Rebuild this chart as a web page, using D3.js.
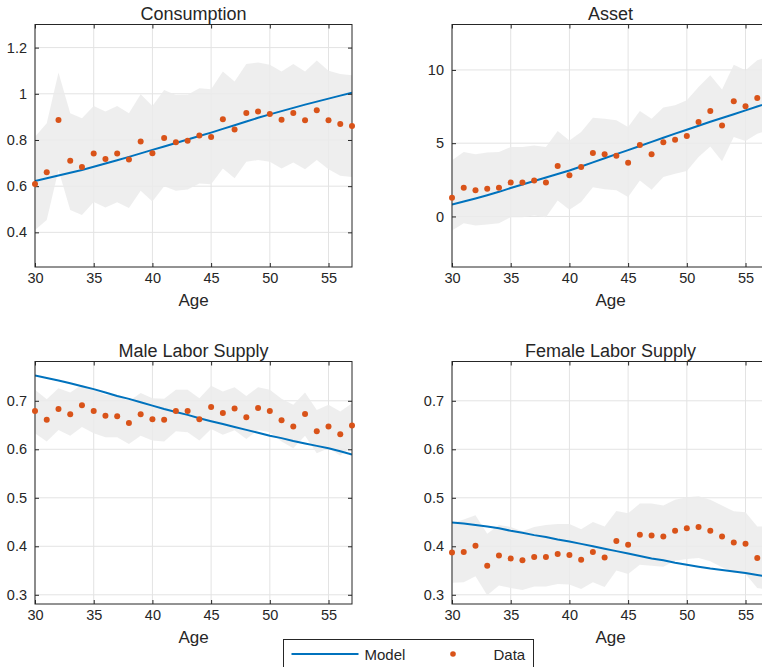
<!DOCTYPE html>
<html>
<head>
<meta charset="utf-8">
<script src="https://cdn.jsdelivr.net/npm/d3@7"></script>
<style>
  body { margin: 0; background: #fff; }
  text { font-family: 'Liberation Sans', Arial, sans-serif; fill: #262626; }
</style>
</head>
<body>
<div id="wrapper"></div>
<script>
const ages = d3.range(30, 58)

const consumptionData = [0.609, 0.660, 0.887, 0.710, 0.683, 0.741, 0.718, 0.741, 0.715, 0.793, 0.742, 0.809, 0.790, 0.797, 0.819, 0.813, 0.890, 0.845, 0.917, 0.923, 0.913, 0.888, 0.917, 0.885, 0.929, 0.885, 0.869, 0.860]
const consumptionModel = [0.622, 0.634, 0.646, 0.658, 0.670, 0.684, 0.698, 0.712, 0.727, 0.742, 0.757, 0.772, 0.787, 0.802, 0.817, 0.832, 0.848, 0.864, 0.880, 0.896, 0.911, 0.925, 0.939, 0.953, 0.966, 0.979, 0.992, 1.005]
const consumptionUpper = [0.814, 0.872, 1.092, 0.916, 0.894, 0.947, 0.923, 0.947, 0.916, 0.998, 0.947, 1.016, 0.995, 0.996, 1.024, 1.020, 1.096, 1.053, 1.129, 1.135, 1.126, 1.096, 1.129, 1.096, 1.144, 1.100, 1.086, 1.080]
const consumptionLower = [0.410, 0.454, 0.670, 0.497, 0.475, 0.531, 0.508, 0.530, 0.505, 0.580, 0.534, 0.600, 0.580, 0.586, 0.612, 0.608, 0.677, 0.634, 0.706, 0.713, 0.706, 0.677, 0.702, 0.673, 0.713, 0.673, 0.645, 0.640]

const assetData = [1.28, 1.96, 1.78, 1.89, 1.96, 2.32, 2.32, 2.46, 2.32, 3.44, 2.82, 3.37, 4.33, 4.24, 4.15, 3.67, 4.87, 4.24, 5.06, 5.24, 5.49, 6.45, 7.20, 6.20, 7.86, 7.52, 8.09, 8.30]
const assetModel = [0.82, 1.02, 1.23, 1.45, 1.68, 1.94, 2.18, 2.42, 2.66, 2.90, 3.14, 3.41, 3.69, 3.97, 4.25, 4.53, 4.81, 5.09, 5.37, 5.65, 5.92, 6.19, 6.46, 6.72, 6.98, 7.24, 7.50, 7.75]
const assetUpper = [3.83, 4.40, 4.24, 4.37, 4.40, 4.74, 4.74, 4.85, 4.74, 5.83, 5.19, 5.76, 6.74, 6.67, 6.56, 6.10, 7.20, 6.67, 7.43, 7.59, 7.93, 8.84, 9.64, 8.66, 10.36, 9.98, 10.66, 10.90]
const assetLower = [-0.96, -0.46, -0.62, -0.55, -0.46, -0.05, -0.05, 0.07, -0.05, 1.09, 0.46, 0.98, 2.00, 1.85, 1.78, 1.32, 2.46, 1.82, 2.69, 2.92, 3.10, 4.05, 4.78, 3.76, 5.42, 5.15, 5.65, 5.90]

const maleData = [0.679, 0.661, 0.683, 0.672, 0.691, 0.679, 0.669, 0.668, 0.654, 0.672, 0.662, 0.661, 0.679, 0.679, 0.662, 0.687, 0.675, 0.684, 0.666, 0.685, 0.679, 0.660, 0.647, 0.673, 0.637, 0.647, 0.631, 0.649]
const maleModel = [0.752, 0.747, 0.742, 0.736, 0.730, 0.724, 0.717, 0.710, 0.704, 0.697, 0.690, 0.683, 0.677, 0.671, 0.664, 0.658, 0.652, 0.646, 0.640, 0.634, 0.628, 0.623, 0.617, 0.612, 0.607, 0.602, 0.596, 0.589]
const maleUpper = [0.723, 0.703, 0.726, 0.717, 0.733, 0.723, 0.712, 0.712, 0.699, 0.716, 0.705, 0.704, 0.723, 0.723, 0.705, 0.731, 0.719, 0.728, 0.710, 0.728, 0.723, 0.704, 0.692, 0.717, 0.681, 0.692, 0.678, 0.695]
const maleLower = [0.633, 0.616, 0.640, 0.628, 0.646, 0.633, 0.625, 0.625, 0.611, 0.628, 0.618, 0.616, 0.637, 0.635, 0.618, 0.642, 0.630, 0.639, 0.621, 0.640, 0.635, 0.616, 0.602, 0.628, 0.592, 0.602, 0.587, 0.604]

const femaleData = [0.387, 0.388, 0.401, 0.360, 0.381, 0.375, 0.371, 0.378, 0.378, 0.384, 0.382, 0.372, 0.388, 0.377, 0.411, 0.403, 0.424, 0.422, 0.420, 0.432, 0.437, 0.440, 0.432, 0.420, 0.408, 0.405, 0.376, 0.370]
const femaleModel = [0.449, 0.447, 0.444, 0.441, 0.437, 0.432, 0.428, 0.423, 0.419, 0.414, 0.410, 0.405, 0.400, 0.395, 0.390, 0.385, 0.380, 0.375, 0.371, 0.366, 0.362, 0.358, 0.354, 0.351, 0.348, 0.345, 0.341, 0.337]
const femaleUpper = [0.448, 0.455, 0.464, 0.426, 0.444, 0.440, 0.431, 0.440, 0.444, 0.446, 0.446, 0.435, 0.450, 0.441, 0.473, 0.468, 0.488, 0.488, 0.484, 0.496, 0.501, 0.503, 0.496, 0.484, 0.472, 0.470, 0.441, 0.440]
const femaleLower = [0.325, 0.326, 0.338, 0.299, 0.319, 0.314, 0.310, 0.317, 0.317, 0.322, 0.321, 0.312, 0.326, 0.316, 0.350, 0.343, 0.362, 0.360, 0.358, 0.370, 0.374, 0.376, 0.369, 0.357, 0.346, 0.343, 0.314, 0.310]

const xTicks = [30, 35, 40, 45, 50, 55]
const consumptionTicks = [0.4, 0.6, 0.8, 1, 1.2]
const assetTicks = [0, 5, 10]
const laborTicks = [0.3, 0.4, 0.5, 0.6, 0.7]

const panels = [
    { title: 'Consumption', data: consumptionData, model: consumptionModel, upper: consumptionUpper, lower: consumptionLower, yDomain: [0.25, 1.3], yTicks: consumptionTicks, x: 35, y: 24.5 },
    { title: 'Asset', data: assetData, model: assetModel, upper: assetUpper, lower: assetLower, yDomain: [-3.45, 13.1], yTicks: assetTicks, x: 452, y: 24.5 },
    { title: 'Male Labor Supply', data: maleData, model: maleModel, upper: maleUpper, lower: maleLower, yDomain: [0.281, 0.781], yTicks: laborTicks, x: 35, y: 361.5 },
    { title: 'Female Labor Supply', data: femaleData, model: femaleModel, upper: femaleUpper, lower: femaleLower, yDomain: [0.281, 0.781], yTicks: laborTicks, x: 452, y: 361.5 },
]

const dimensions = { width: 762, height: 667, plotWidth: 317, plotHeight: 242.5 }

const colors = { model: '#0072BD', data: '#D95319', band: '#ebebeb', axis: '#262626', grid: '#e3e3e3' }

const svg = d3.select('#wrapper')
    .append('svg')
    .attr('width', dimensions.width)
    .attr('height', dimensions.height)

const fmt = d3.format('~g')

panels.forEach((p, i) => {
    const g = svg.append('g').attr('transform', `translate(${p.x}, ${p.y})`)
    const w = dimensions.plotWidth
    const h = dimensions.plotHeight

    const scaleX = d3.scaleLinear().domain([30, 57]).range([0, w])
    const scaleY = d3.scaleLinear().domain(p.yDomain).range([h, 0])

    const clipId = `clip${i}`
    g.append('clipPath').attr('id', clipId)
        .append('rect').attr('width', w).attr('height', h)

    // grid
    g.append('g').selectAll('line').data(xTicks).join('line')
        .attr('x1', d => scaleX(d)).attr('x2', d => scaleX(d))
        .attr('y1', 0).attr('y2', h)
        .attr('stroke', colors.grid).attr('stroke-width', 1)
    g.append('g').selectAll('line').data(p.yTicks).join('line')
        .attr('y1', d => scaleY(d)).attr('y2', d => scaleY(d))
        .attr('x1', 0).attr('x2', w)
        .attr('stroke', colors.grid).attr('stroke-width', 1)

    const rows = ages.map((a, j) => ({ age: a, data: p.data[j], model: p.model[j], upper: p.upper[j], lower: p.lower[j] }))

    const area = d3.area()
        .x(d => scaleX(d.age))
        .y0(d => scaleY(d.lower))
        .y1(d => scaleY(d.upper))
    g.append('path').datum(rows)
        .attr('clip-path', `url(#${clipId})`)
        .attr('d', area)
        .attr('fill', colors.band)
        .attr('fill-opacity', 0.85)

    const line = d3.line().x(d => scaleX(d.age)).y(d => scaleY(d.model))
    g.append('path').datum(rows)
        .attr('clip-path', `url(#${clipId})`)
        .attr('d', line)
        .attr('fill', 'none')
        .attr('stroke', colors.model)
        .attr('stroke-width', 2)

    // axes with inward ticks on all sides
    const tickLen = 4
    const xAxisBottom = d3.axisBottom(scaleX).tickValues(xTicks).tickSizeInner(-tickLen).tickSizeOuter(0).tickPadding(6).tickFormat(fmt)
    const xAxisTop = d3.axisTop(scaleX).tickValues(xTicks).tickSizeInner(-tickLen).tickSizeOuter(0).tickFormat('')
    const yAxisLeft = d3.axisLeft(scaleY).tickValues(p.yTicks).tickSizeInner(-tickLen).tickSizeOuter(0).tickPadding(8).tickFormat(fmt)
    const yAxisRight = d3.axisRight(scaleY).tickValues(p.yTicks).tickSizeInner(-tickLen).tickSizeOuter(0).tickFormat('')

    const axes = [
        g.append('g').attr('transform', `translate(0, ${h})`).call(xAxisBottom),
        g.append('g').call(xAxisTop),
        g.append('g').call(yAxisLeft),
        g.append('g').attr('transform', `translate(${w}, 0)`).call(yAxisRight),
    ]
    axes.forEach(a => {
        a.select('.domain').remove()
        a.selectAll('line').attr('stroke', colors.axis)
        a.selectAll('text').style('font-size', '14.5px').attr('fill', colors.axis)
            .style('font-family', "'Liberation Sans', Arial, sans-serif")
    })

    g.append('rect')
        .attr('width', w).attr('height', h)
        .attr('fill', 'none')
        .attr('stroke', colors.axis)
        .attr('stroke-width', 1)

    g.append('g').selectAll('circle').data(rows).join('circle')
        .attr('cx', d => scaleX(d.age))
        .attr('cy', d => scaleY(d.data))
        .attr('r', 3)
        .attr('fill', colors.data)

    g.append('text')
        .text(p.title)
        .attr('x', w / 2)
        .attr('y', -5)
        .style('font-size', '18px')
        .style('text-anchor', 'middle')

    g.append('text')
        .text('Age')
        .attr('x', w / 2)
        .attr('y', h + 38.5)
        .style('font-size', '17px')
        .style('text-anchor', 'middle')
})

// legend
const legend = svg.append('g').attr('transform', 'translate(283.5, 639.5)')
legend.append('rect')
    .attr('width', 250).attr('height', 40)
    .attr('fill', '#fff').attr('stroke', colors.axis).attr('stroke-width', 1)
legend.append('line')
    .attr('x1', 8).attr('x2', 75).attr('y1', 14.5).attr('y2', 14.5)
    .attr('stroke', colors.model).attr('stroke-width', 2)
legend.append('text').text('Model')
    .attr('x', 81).attr('y', 20).style('font-size', '15px')
legend.append('circle')
    .attr('cx', 169.5).attr('cy', 14.5).attr('r', 2.8).attr('fill', colors.data)
legend.append('text').text('Data')
    .attr('x', 210).attr('y', 20).style('font-size', '15px')
</script>
</body>
</html>
